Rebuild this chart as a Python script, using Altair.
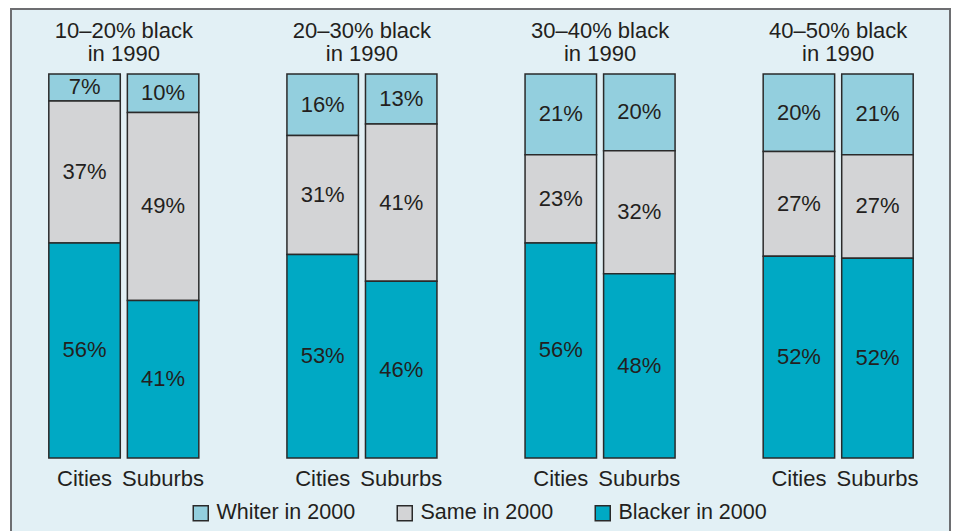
import altair as alt
import pandas as pd

# ---- data ----
groups = ["10–20%", "20–30%", "30–40%", "40–50%"]
areas = ["Cities", "Suburbs"]
categories = ["Whiter in 2000", "Same in 2000", "Blacker in 2000"]
# order per group: Cities, Suburbs
whiter = [7, 10, 16, 13, 21, 20, 20, 21]
same = [37, 49, 31, 41, 23, 32, 27, 27]
blacker = [56, 41, 53, 46, 56, 48, 52, 52]

colors = ["#93cfde", "#d3d4d6", "#00a9c4"]
TXT = "#231f20"
FONT = "Liberation Sans"
BG = "#e2f0f5"
FS = 22

rows = []
series = {"Whiter in 2000": whiter, "Same in 2000": same, "Blacker in 2000": blacker}
stack_order = {"Blacker in 2000": 0, "Same in 2000": 1, "Whiter in 2000": 2}
i = 0
for g in groups:
    for a in areas:
        for c in categories:
            rows.append({"group": g, "area": a, "category": c,
                         "value": series[c][i], "ord": stack_order[c],
                         "title": g + " black\nin 1990"})
        i += 1
df = pd.DataFrame(rows)

W, H = 912, 384

xenc = alt.X("group:N", sort=groups,
             scale=alt.Scale(paddingInner=0.37, paddingOuter=0.1),
             axis=alt.Axis(labels=False, ticks=False, title=None, grid=False,
                           domainColor="#3a3a3a", domainWidth=1.5))
xoff = alt.XOffset("area:N", sort=areas,
                   scale=alt.Scale(paddingInner=0.09, paddingOuter=0))

base = alt.Chart(df).transform_stack(
    stack="value", groupby=["group", "area"], as_=["v0", "v1"],
    offset="normalize", sort=[alt.SortField("ord", order="ascending")]
).transform_calculate(mid="(datum.v0 + datum.v1) / 2",
                      lbl="datum.value + '%'")

frame = alt.Chart(pd.DataFrame({"k": [0]})).mark_rect(
    fill=BG, stroke="#6d6e71", strokeWidth=2
).encode(x=alt.value(-14), x2=alt.value(925), y=alt.value(-65), y2=alt.value(540))

bars = base.mark_bar(stroke="#2a2a2a", strokeWidth=1.5, opacity=1).encode(
    x=xenc, xOffset=xoff,
    y=alt.Y("v0:Q", scale=alt.Scale(domain=[0, 1]), axis=None),
    y2="v1:Q",
    color=alt.Color("category:N",
                    scale=alt.Scale(domain=categories, range=colors),
                    legend=alt.Legend(orient="none", legendX=165, legendY=428,
                                      direction="horizontal", title=None,
                                      symbolType="square", symbolSize=225,
                                      symbolStrokeColor="#2a2a2a",
                                      symbolStrokeWidth=1.5, symbolOpacity=1,
                                      labelFont=FONT, labelFontSize=21.5,
                                      labelColor=TXT, columnPadding=38,
                                      labelOffset=5, padding=0,
                                      labelLimit=300)),
)

labels = base.mark_text(font=FONT, fontSize=FS, color=TXT, baseline="middle").encode(
    x=xenc, xOffset=xoff,
    y=alt.Y("mid:Q", scale=alt.Scale(domain=[0, 1]), axis=None),
    text="lbl:N",
)

area_lbl = alt.Chart(df).transform_filter(
    "datum.category == 'Blacker in 2000'"
).mark_text(font=FONT, fontSize=FS, color=TXT, baseline="middle").encode(
    x=xenc, xOffset=xoff, y=alt.value(405), text="area:N"
)

titles = alt.Chart(df).transform_filter(
    "datum.category == 'Blacker in 2000' && datum.area == 'Cities'"
).mark_text(font=FONT, fontSize=FS, color=TXT, baseline="middle",
            lineBreak="\n", lineHeight=23).encode(
    x=xenc, y=alt.value(-43), text="title:N"
)

chart = alt.layer(frame, bars, labels, area_lbl, titles).properties(
    width=W, height=H,
    autosize=alt.AutoSizeParams(type="none"),
    padding={"left": 17, "top": 66, "right": 14, "bottom": 73},
    background="white",
).configure_view(strokeWidth=0)

chart.save("out.html", embed_options={"renderer": "svg", "actions": False})
